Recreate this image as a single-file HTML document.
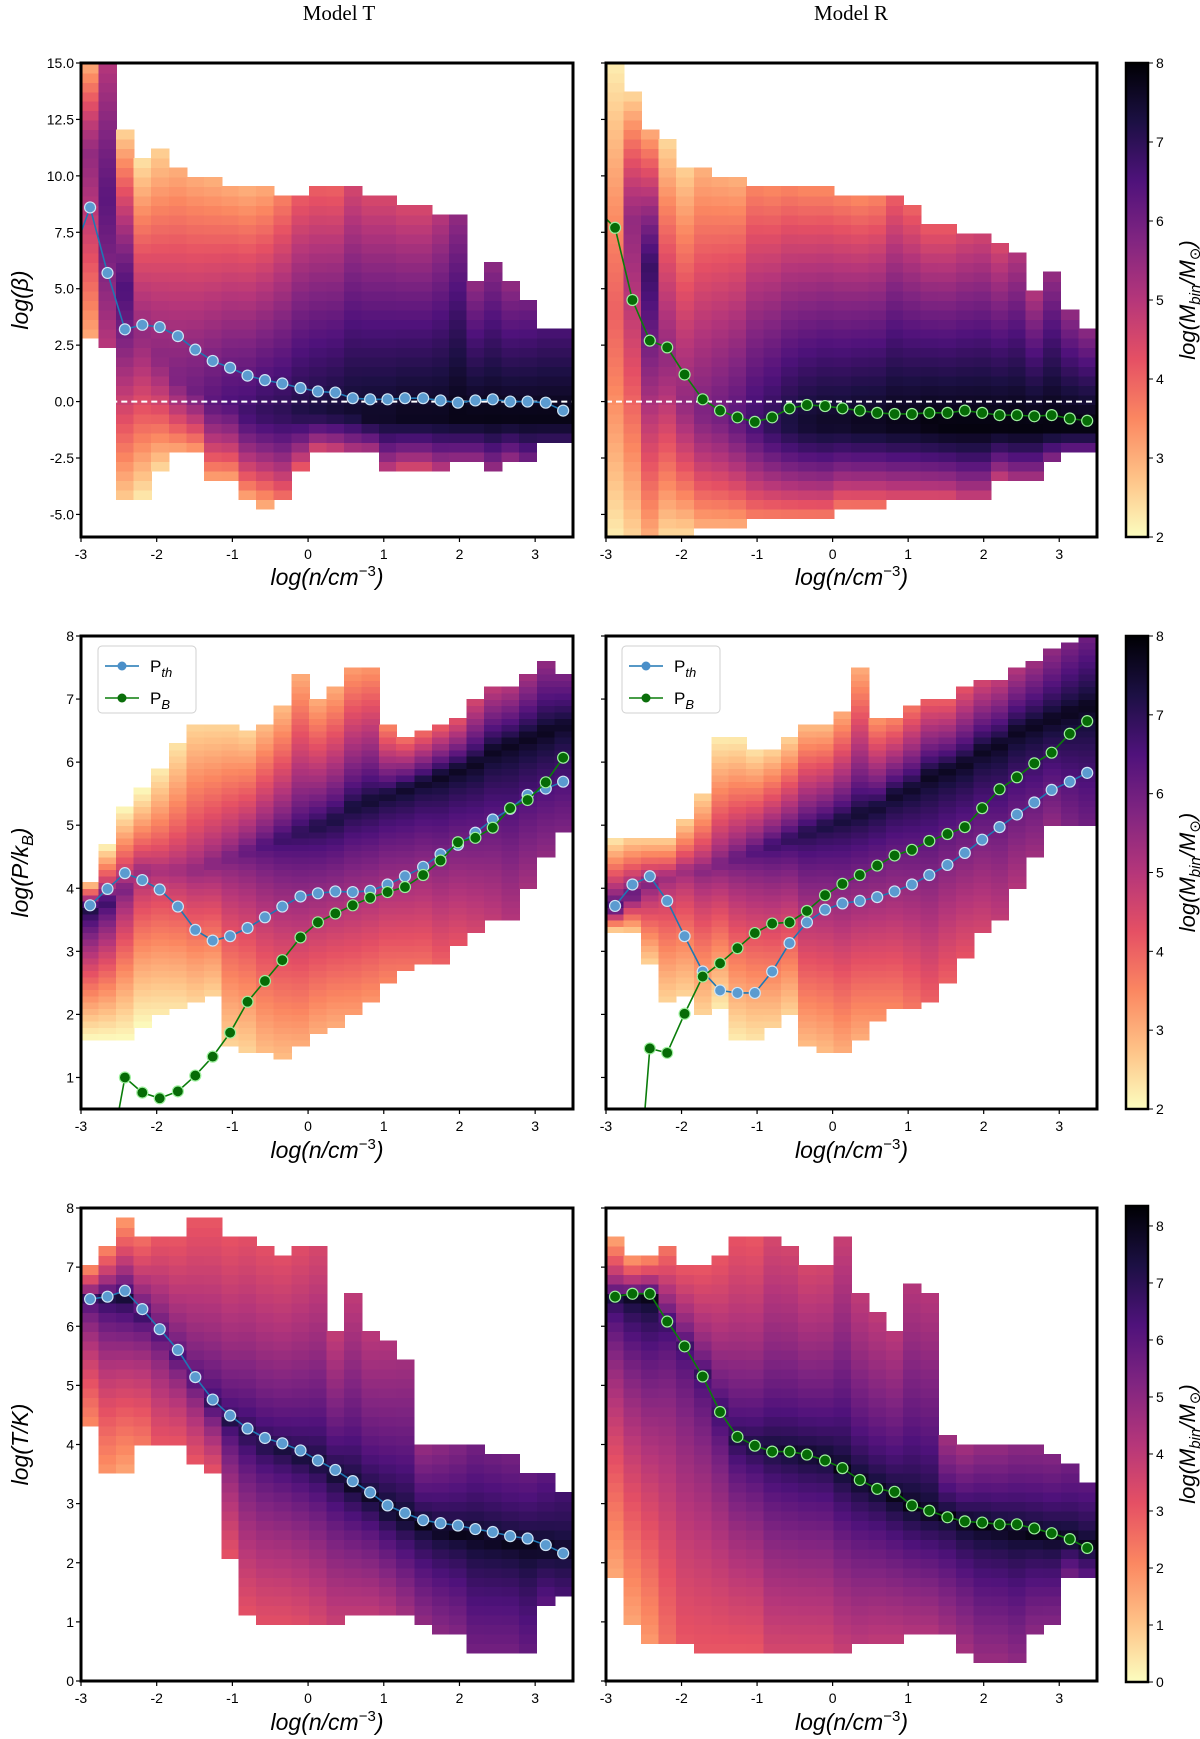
<!DOCTYPE html>
<html><head><meta charset="utf-8"><style>
body{margin:0;background:#fff;}
svg{display:block;font-family:"Liberation Sans","DejaVu Sans",sans-serif;}
</style></head><body>
<svg id="fig" width="1200" height="1739" viewBox="0 0 1200 1739" xmlns="http://www.w3.org/2000/svg">
<defs>
<linearGradient id="cmap" x1="0" y1="1" x2="0" y2="0">
<stop offset="0" stop-color="#fcfdbf"/><stop offset="0.125" stop-color="#fec287"/><stop offset="0.25" stop-color="#fb8761"/><stop offset="0.375" stop-color="#e55064"/><stop offset="0.5" stop-color="#b5367a"/><stop offset="0.625" stop-color="#812581"/><stop offset="0.75" stop-color="#4f127b"/><stop offset="0.875" stop-color="#1c1044"/><stop offset="1" stop-color="#000004"/>
</linearGradient>
</defs>
<text x="339" y="20" font-family="Liberation Serif,serif" font-size="21" text-anchor="middle">Model T</text>
<text x="851" y="20" font-family="Liberation Serif,serif" font-size="21" text-anchor="middle">Model R</text>
<g id="root"></g>
</svg>
<script>
// ---- shared x bins ----
const xCenters = [-2.88,-2.65,-2.42,-2.19,-1.96,-1.72,-1.49,-1.26,-1.03,-0.80,-0.57,-0.34,-0.10,0.13,0.36,0.59,0.82,1.05,1.28,1.52,1.75,1.98,2.21,2.44,2.67,2.90,3.14,3.37];
const xTicks = [-3,-2,-1,0,1,2,3];
const tickLabelsX = ["-3","-2","-1","0","1","2","3"];
// ---- row 1: beta ----
const betaTHi = [15,15,12,11,11.3,10.3,10,9.8,9.6,9.4,9.6,9.3,9.3,9.6,9.5,9.6,9.0,9.0,8.6,8.6,8.2,8.3,5.3,6.3,5.3,4.3,3.4,3.4];
const betaTLo = [2.7,2.6,-4.5,-4.3,-2.9,-2.2,-2.3,-3.5,-3.5,-4.3,-4.6,-4.5,-3.0,-2.3,-2.4,-2.4,-2.4,-3.2,-2.9,-2.9,-2.9,-2.5,-2.5,-2.9,-2.5,-2.5,-2.0,-2.0];
const betaTCtr = [11,9,5,3,2,1,0.5,0,0,-0.5,-0.5,-0.5,-0.5,-0.5,-0.5,-0.5,-0.7,-0.7,-0.7,-0.7,-0.7,-0.7,-0.7,-0.7,-0.7,-0.7,-0.7,-0.7];
const betaTPeak = [5.5,6.3,6.5,5.5,5.6,5.8,6,6.3,6.5,6.7,6.9,7,7.2,7.3,7.4,7.5,7.6,7.6,7.7,7.7,7.7,7.8,7.8,7.8,7.8,7.8,7.8,7.8];
const betaTEdge = [3,5,2.5,2.2,2.5,3,3,3,3,3,3,3.5,4,4,4,4.5,4.5,4.5,4.5,4.5,5,5.5,5.5,5.5,5.5,6,6.5,6.5];
const betaRHi = [15,13.6,12,11.5,10.5,10.2,10,9.8,9.6,9.4,9.6,9.4,9.4,9.2,9.0,9.2,9.2,8.6,8.0,8.0,7.4,7.6,6.9,6.6,4.9,5.6,4.0,3.3];
const betaRLo = [-6,-6,-6,-5.8,-5.8,-5.5,-5.5,-5.5,-5.2,-5.2,-5.2,-5.2,-5.2,-4.8,-4.8,-4.8,-4.5,-4.5,-4.5,-4.5,-4.4,-4.4,-3.5,-3.5,-3.5,-2.6,-2.4,-2.4];
const betaRCtr = [4,8,6,2,0,-0.5,-0.5,-0.7,-0.8,-1,-1,-1,-1,-1,-1,-1,-1,-1,-1,-1.1,-1.1,-1.1,-1.1,-1.1,-1.1,-1.1,-1.1,-1.1];
const betaRPeak = [4,5.5,6.8,5.5,5.5,5.8,6,6.3,6.7,7,7.3,7.5,7.6,7.6,7.7,7.7,7.8,7.8,7.9,7.9,7.9,7.9,7.9,7.9,7.9,7.9,7.9,7.9];
const betaREdge = [2.2,2.5,3,2.5,2.5,3,3,3,3.5,3.5,3.5,3.5,3.5,3.5,3.5,3.5,4,4,4,4,4.5,4.5,4.5,5,5,5.5,5.5,5.5];
const betaTLine = [8.6,5.7,3.2,3.4,3.3,2.9,2.3,1.8,1.5,1.15,0.95,0.8,0.6,0.45,0.4,0.15,0.1,0.1,0.15,0.15,0.05,-0.05,0.05,0.1,0.0,0.0,-0.05,-0.4];
const betaRLine = [7.7,4.5,2.7,2.4,1.2,0.1,-0.4,-0.7,-0.9,-0.7,-0.3,-0.15,-0.2,-0.3,-0.4,-0.5,-0.55,-0.55,-0.5,-0.5,-0.4,-0.5,-0.6,-0.6,-0.65,-0.6,-0.75,-0.85];
const betaTicks = [15,12.5,10,7.5,5,2.5,0,-2.5,-5];
const betaTickLabels = ["15.0","12.5","10.0","7.5","5.0","2.5","0.0","-2.5","-5.0"];
// ---- row 2: pressure ----
const presTHi = [4.15,4.7,5.3,5.6,5.9,6.3,6.6,6.6,6.6,6.5,6.6,6.9,7.4,7.0,7.2,7.5,7.5,6.6,6.4,6.5,6.6,6.7,7.0,7.2,7.2,7.4,7.6,7.4];
const presTLo = [1.6,1.6,1.6,1.8,2.0,2.1,2.2,2.3,1.5,1.4,1.4,1.3,1.5,1.7,1.8,2.0,2.2,2.5,2.7,2.8,2.8,3.1,3.3,3.5,3.5,4.0,4.5,4.9];
const presTCtr = [3.7,3.8,4.0,4.3,4.3,4.3,4.3,4.4,4.5,4.6,4.7,4.8,4.9,5.0,5.1,5.3,5.4,5.5,5.6,5.7,5.8,5.9,6.0,6.2,6.3,6.4,6.5,6.6];
const presTPeak = [7.5,7,6,5.5,5.3,5.4,5.6,5.8,6,6.3,6.6,6.9,7.1,7.3,7.4,7.5,7.6,7.6,7.7,7.7,7.8,7.8,7.8,7.8,7.8,7.8,7.8,7.7];
const presTEdge = [2,2,2,2,2.2,2.3,2.5,2.5,2.5,2.5,2.8,2.8,3,3,3,3.2,3.3,3.5,3.7,3.8,4,4.2,4.5,4.8,5,5.2,5.5,5.8];
const presRHi = [4.8,4.8,4.8,4.8,5.1,5.5,6.4,6.4,6.2,6.2,6.4,6.6,6.6,6.8,7.5,6.7,6.7,6.9,7.0,7.0,7.2,7.3,7.3,7.5,7.6,7.8,7.9,8.0];
const presRLo = [3.3,3.3,2.8,2.2,2.3,2.0,2.1,1.6,1.6,1.8,2.0,1.5,1.4,1.4,1.6,1.9,2.1,2.1,2.2,2.5,2.9,3.3,3.5,4.0,4.5,5.0,5.0,5.0];
const presRCtr = [3.7,3.9,4.1,4.2,4.3,4.3,4.4,4.5,4.6,4.7,4.8,4.9,5.0,5.1,5.2,5.3,5.5,5.6,5.8,5.9,6.0,6.2,6.3,6.5,6.6,6.7,6.8,6.9];
const presRPeak = [7,6.5,6,5.5,5.5,5.8,6,6.3,6.6,6.9,7.1,7.3,7.4,7.5,7.6,7.6,7.7,7.7,7.8,7.8,7.8,7.8,7.8,7.8,7.8,7.8,7.8,7.8];
const presREdge = [2.2,2.5,2.5,2.5,2.5,2.5,2.2,2.2,2.3,2.5,2.5,2.8,2.8,3,3,3.3,3.5,3.7,4,4,4.2,4.5,4.8,5,5.3,5.5,5.8,6];
const pthT = [3.73,3.99,4.24,4.13,3.98,3.71,3.34,3.17,3.24,3.37,3.54,3.71,3.87,3.92,3.95,3.94,3.96,4.06,4.19,4.34,4.54,4.69,4.88,5.09,5.26,5.48,5.58,5.69];
const pbT = [null,-0.5,1.0,0.76,0.67,0.78,1.03,1.33,1.71,2.2,2.53,2.86,3.22,3.46,3.6,3.73,3.85,3.94,4.02,4.21,4.44,4.73,4.8,4.96,5.27,5.4,5.68,6.07];
const pthR = [3.72,4.06,4.19,3.8,3.24,2.68,2.38,2.34,2.34,2.68,3.13,3.46,3.66,3.76,3.8,3.86,3.95,4.06,4.21,4.37,4.56,4.77,4.97,5.17,5.36,5.56,5.69,5.83];
const pbR = [null,-2,1.46,1.39,2.01,2.6,2.81,3.05,3.29,3.44,3.46,3.64,3.89,4.07,4.21,4.36,4.52,4.61,4.75,4.86,4.97,5.27,5.57,5.76,5.98,6.15,6.45,6.65];
const presTicks = [8,7,6,5,4,3,2,1];
const presTickLabels = ["8","7","6","5","4","3","2","1"];
// ---- row 3: temperature ----
const tempTHi = [7.0,7.4,7.9,7.6,7.5,7.5,7.8,7.8,7.6,7.5,7.3,7.2,7.3,7.3,6.0,6.5,6.0,5.8,5.5,4.0,4.0,4.0,4.0,3.9,3.8,3.5,3.5,3.2];
const tempTLo = [4.3,3.5,3.5,4.0,4.0,4.0,3.7,3.5,2.0,1.2,1.0,1.0,1.0,1.0,1.0,1.2,1.2,1.2,1.1,0.9,0.8,0.8,0.5,0.5,0.5,0.5,1.3,1.5];
const tempTCtr = [6.5,6.5,6.5,6.2,5.9,5.5,5.1,4.7,4.4,4.2,4.0,3.9,3.8,3.7,3.5,3.3,3.1,2.9,2.75,2.65,2.55,2.5,2.45,2.4,2.35,2.3,2.25,2.2];
const tempTPeak = [7,7.5,7.8,7,6.5,6.5,6.5,7,7.2,7.4,7.5,7.6,7.7,7.8,7.9,8,8,8.1,8.1,8.2,8.2,8.2,8.2,8.2,8.2,8.2,8.2,8];
const tempTEdge = [2,1.8,1.5,2.3,3,3,3,3,3,3.2,3.2,3.2,3.3,3.5,3.8,4,4,4.2,4.5,4.8,5,5.2,5.5,5.5,5.5,5.8,6,6.5];
const tempRHi = [7.5,7.2,7.2,7.3,7.0,7.0,7.2,7.6,7.5,7.5,7.4,7.0,7.1,7.5,6.5,6.2,6.0,6.7,6.5,4.2,4.0,4.0,4.0,4.0,4.0,3.8,3.7,3.3];
const tempRLo = [1.8,0.9,0.7,0.6,0.6,0.5,0.5,0.5,0.5,0.5,0.5,0.5,0.5,0.5,0.6,0.7,0.7,0.8,0.8,0.8,0.5,0.4,0.4,0.4,0.8,1.0,1.8,1.8];
const tempRCtr = [6.5,6.5,6.5,6.1,5.7,5.2,4.6,4.1,4.0,3.95,3.9,3.85,3.8,3.6,3.4,3.25,3.1,2.95,2.85,2.8,2.7,2.65,2.6,2.55,2.5,2.45,2.4,2.3];
const tempRPeak = [7.5,8,8.2,7,6.8,6.8,7,7.4,7.6,7.8,7.9,8,8,8.1,8.1,8.1,8.2,8.2,8.2,8.2,8.3,8.3,8.3,8.3,8.3,8.3,8.3,8.2];
const tempREdge = [1.5,1.5,1.8,2.5,3,3,3,3,3,3.5,3.5,3.5,3.5,3.8,4,4,4,4.2,4.2,4.5,4.5,4.8,4.8,5,5,5.2,5.5,6];
const tempTLine = [6.46,6.5,6.6,6.29,5.95,5.6,5.14,4.76,4.49,4.27,4.11,4.02,3.9,3.73,3.57,3.38,3.19,2.97,2.84,2.72,2.67,2.63,2.57,2.52,2.45,2.41,2.3,2.16];
const tempRLine = [6.5,6.55,6.55,6.08,5.66,5.15,4.55,4.13,3.98,3.88,3.88,3.83,3.73,3.6,3.4,3.25,3.2,2.97,2.88,2.77,2.7,2.68,2.65,2.65,2.58,2.5,2.4,2.25];
const tempTicks = [8,7,6,5,4,3,2,1,0];
const tempTickLabels = ["8","7","6","5","4","3","2","1","0"];
const cbTicks12 = [8,7,6,5,4,3,2];
const cbTicks3 = [8,7,6,5,4,3,2,1,0];

const NS = "http://www.w3.org/2000/svg";
const root = document.getElementById('root');
function mk(tag, attrs, parent){const e=document.createElementNS(NS,tag);for(const k in attrs)e.setAttribute(k,attrs[k]);(parent||root).appendChild(e);return e;}
const magma=[[252,253,191],[254,194,135],[251,135,97],[229,80,100],[181,54,122],[129,37,129],[79,18,123],[28,16,68],[0,0,4]];
function cmap(t){t=Math.max(0,Math.min(1,t));const f=t*8,i=Math.min(7,Math.floor(f)),r=f-i;const a=magma[i],b=magma[i+1];return `rgb(${Math.round(a[0]+(b[0]-a[0])*r)},${Math.round(a[1]+(b[1]-a[1])*r)},${Math.round(a[2]+(b[2]-a[2])*r)})`;}
const XL=[81,573], XR=[606,1097];
function panel(o){
  const [x0,x1]=o.xr,[y0,y1]=o.yr;
  const xs=v=>x0+(v+3)/6.5*(x1-x0);
  const ys=v=>y1-(v-o.ymin)/(o.ymax-o.ymin)*(y1-y0);
  const g=mk('g',{});
  
  
  const clipId='c'+o.name;
  const cp=mk('clipPath',{id:clipId},g);mk('rect',{x:x0,y:y0,width:x1-x0,height:y1-y0},cp);
  const hm=mk('g',{'clip-path':`url(#${clipId})`,'shape-rendering':'crispEdges'},g);
  
  
  const dx=6.5/28;
  for(let i=0;i<28;i++){
    const xc=xCenters[i];
    for(let yb=o.ymin;yb<o.ymax;yb+=o.dy){
      const yc=yb+o.dy/2;
      if(yc>o.hi[i]||yc<o.lo[i])continue;
      const c=o.ctr[i];
      const d=yc>=c?(yc-c)/Math.max(0.01,o.hi[i]-c):(c-yc)/Math.max(0.01,c-o.lo[i]);
      const v=o.peak[i]-(o.peak[i]-o.edge[i])*Math.pow(Math.min(1,d),o.pw);
      const r=mk('rect',{x:xs(xc-dx/2).toFixed(1),y:ys(yb+o.dy).toFixed(1),width:(xs(dx)-xs(0)+0.8).toFixed(1),height:(ys(0)-ys(o.dy)+0.8).toFixed(1),fill:cmap((v-o.vmin)/(o.vmax-o.vmin))},hm);
      
      
    }
  }
  if(o.dash){const l=mk('line',{x1:xs(o.dash),y1:ys(0),x2:x1,y2:ys(0),stroke:'#fff','stroke-width':2,'stroke-dasharray':'6,4'},g);
    
    }
  const lg=mk('g',{'clip-path':`url(#${clipId})`},g);
  (o.lines||[]).forEach(L=>{
    let pts=[];L.data.forEach((v,i)=>{if(v!==null)pts.push([xs(xCenters[i]),ys(v)]);});
    if(L.start!==undefined)pts.unshift([xs(-3),ys(L.start)]);
    const pl=mk('polyline',{points:pts.map(p=>p.join(',')).join(' '),fill:'none',stroke:L.stroke,'stroke-width':1.6},lg);
    
    
    L.data.forEach((v,i)=>{if(v===null||v<o.ymin)return;
      const m=mk('circle',{cx:xs(xCenters[i]),cy:ys(v),r:5.5,fill:L.face,stroke:L.edge,'stroke-width':1.2},lg);
      
      });
  });
  const fr=mk('rect',{x:x0,y:y0,width:x1-x0,height:y1-y0,fill:'none',stroke:'#000','stroke-width':3},g);
  
  
  xTicks.forEach((t,k)=>{mk('line',{x1:xs(t),y1:y1,x2:xs(t),y2:y1+5,stroke:'#000','stroke-width':1.2},g);
    const tx=mk('text',{x:xs(t),y:y1+22,'font-size':14,'text-anchor':'middle'},g);tx.textContent=tickLabelsX[k];
    
    });
  o.yt.forEach((t,k)=>{mk('line',{x1:x0-5,y1:ys(t),x2:x0,y2:ys(t),stroke:'#000','stroke-width':1.2},g);
    if(o.showY){const tx=mk('text',{x:x0-7,y:ys(t)+5,'font-size':14,'text-anchor':'end'},g);tx.textContent=o.ytl[k];
    
    }});
  const xl=mk('text',{x:(x0+x1)/2,y:o.xly,'font-size':23,'text-anchor':'middle','font-style':'italic'},g);
  xl.innerHTML='log(n/cm<tspan dy="-9" font-size="15" font-style="normal">−3</tspan><tspan dy="9">)</tspan>';
  
  
  return {xs,ys};
}
function colorbar(y0,y1,vmin,vmax,ticks,name){
  const g=mk('g',{});
  
  
  mk('rect',{x:1126,y:y0,width:22,height:y1-y0,fill:'url(#cmap)',stroke:'#000','stroke-width':2.5},g);
  ticks.forEach(t=>{const y=y1-(t-vmin)/(vmax-vmin)*(y1-y0);mk('line',{x1:1148,y1:y,x2:1153,y2:y,stroke:'#000'},g);
    const tx=mk('text',{x:1156,y:y+5,'font-size':14},g);tx.textContent=String(t);
    
    });
  const cy=(y0+y1)/2;
  const tl=mk('text',{x:1195,y:cy,'font-size':22,'font-style':'italic','text-anchor':'middle',transform:`rotate(-90 1195 ${cy})`},g);
  tl.innerHTML='log(M<tspan dy="5" font-size="15">bin</tspan><tspan dy="-5">/M</tspan><tspan dy="5" font-size="15" font-style="normal">⊙</tspan><tspan dy="-5">)</tspan>';
  
  
}
function ylabel(y0,y1,html,name){const cy=(y0+y1)/2;const t=mk('text',{x:28,y:cy,'font-size':23,'font-style':'italic','text-anchor':'middle',transform:`rotate(-90 28 ${cy})`});t.innerHTML=html;
  
  }
const BLUE={stroke:'#1f77b4',face:'#5b9bd0',edge:'#cfe4f5'}, GREEN={stroke:'#0a7d0a',face:'#066b06',edge:'#9ef09e'};
// row 1
panel({name:'beta-model-t',xr:XL,yr:[63,537],ymin:-6,ymax:15,dy:0.42,vmin:2,vmax:8,pw:1.2,hi:betaTHi,lo:betaTLo,ctr:betaTCtr,peak:betaTPeak,edge:betaTEdge,dash:-2.6,yt:betaTicks,ytl:betaTickLabels,showY:true,xly:585,
  lines:[Object.assign({name:'beta-t',data:betaTLine,start:7.5},BLUE)]});
panel({name:'beta-model-r',xr:XR,yr:[63,537],ymin:-6,ymax:15,dy:0.42,vmin:2,vmax:8,pw:1.2,hi:betaRHi,lo:betaRLo,ctr:betaRCtr,peak:betaRPeak,edge:betaREdge,dash:-3,yt:betaTicks,ytl:betaTickLabels,showY:false,xly:585,
  lines:[Object.assign({name:'beta-r',data:betaRLine,start:8.1},GREEN)]});
colorbar(63,537,2,8,cbTicks12,'colorbar-row1');
ylabel(63,537,'log(β)','y-axis-title-beta');
// row 2
panel({name:'pressure-model-t',xr:XL,yr:[636,1109],ymin:0.5,ymax:8,dy:0.1,vmin:2,vmax:8,pw:0.75,hi:presTHi,lo:presTLo,ctr:presTCtr,peak:presTPeak,edge:presTEdge,yt:presTicks,ytl:presTickLabels,showY:true,xly:1158,
  lines:[Object.assign({name:'pth-t',data:pthT},BLUE),Object.assign({name:'pb-t',data:pbT},GREEN)]});
panel({name:'pressure-model-r',xr:XR,yr:[636,1109],ymin:0.5,ymax:8,dy:0.1,vmin:2,vmax:8,pw:0.75,hi:presRHi,lo:presRLo,ctr:presRCtr,peak:presRPeak,edge:presREdge,yt:presTicks,ytl:presTickLabels,showY:false,xly:1158,
  lines:[Object.assign({name:'pth-r',data:pthR},BLUE),Object.assign({name:'pb-r',data:pbR},GREEN)]});
colorbar(636,1109,2,8,cbTicks12,'colorbar-row2');
ylabel(636,1109,'log(P/k<tspan dy="5" font-size="16">B</tspan><tspan dy="-5">)</tspan>','y-axis-title-pressure');
[98,622].forEach((lx,k)=>{
  const g=mk('g',{});
  
  
  mk('rect',{x:lx,y:646,width:98,height:67,rx:4,fill:'#fff',stroke:'#ccc','stroke-width':1,opacity:0.9},g);
  [[BLUE,'th',666],[GREEN,'B',698]].forEach(([S,sub,y])=>{
    mk('line',{x1:lx+7,y1:y,x2:lx+41,y2:y,stroke:S.stroke,'stroke-width':1.6},g);
    mk('circle',{cx:lx+24,cy:y,r:4.5,fill:S===BLUE?'#4a8fc9':'#0a6e0a'},g);
    const t=mk('text',{x:lx+52,y:y+6,'font-size':17},g);
    t.innerHTML='P<tspan dy="5" font-size="13" font-style="italic">'+sub+'</tspan>';
    
    
  });
});
// row 3
panel({name:'temp-model-t',xr:XL,yr:[1208,1681],ymin:0,ymax:8,dy:0.16,vmin:0,vmax:8.35,pw:0.6,hi:tempTHi,lo:tempTLo,ctr:tempTCtr,peak:tempTPeak,edge:tempTEdge,yt:tempTicks,ytl:tempTickLabels,showY:true,xly:1730,
  lines:[Object.assign({name:'temp-t',data:tempTLine},BLUE)]});
panel({name:'temp-model-r',xr:XR,yr:[1208,1681],ymin:0,ymax:8,dy:0.16,vmin:0,vmax:8.35,pw:0.6,hi:tempRHi,lo:tempRLo,ctr:tempRCtr,peak:tempRPeak,edge:tempREdge,yt:tempTicks,ytl:tempTickLabels,showY:false,xly:1730,
  lines:[Object.assign({name:'temp-r',data:tempRLine},GREEN)]});
colorbar(1206,1682,0,8.35,cbTicks3,'colorbar-row3');
ylabel(1208,1681,'log(T/K)','y-axis-title-temperature');
</script>
</body></html>
